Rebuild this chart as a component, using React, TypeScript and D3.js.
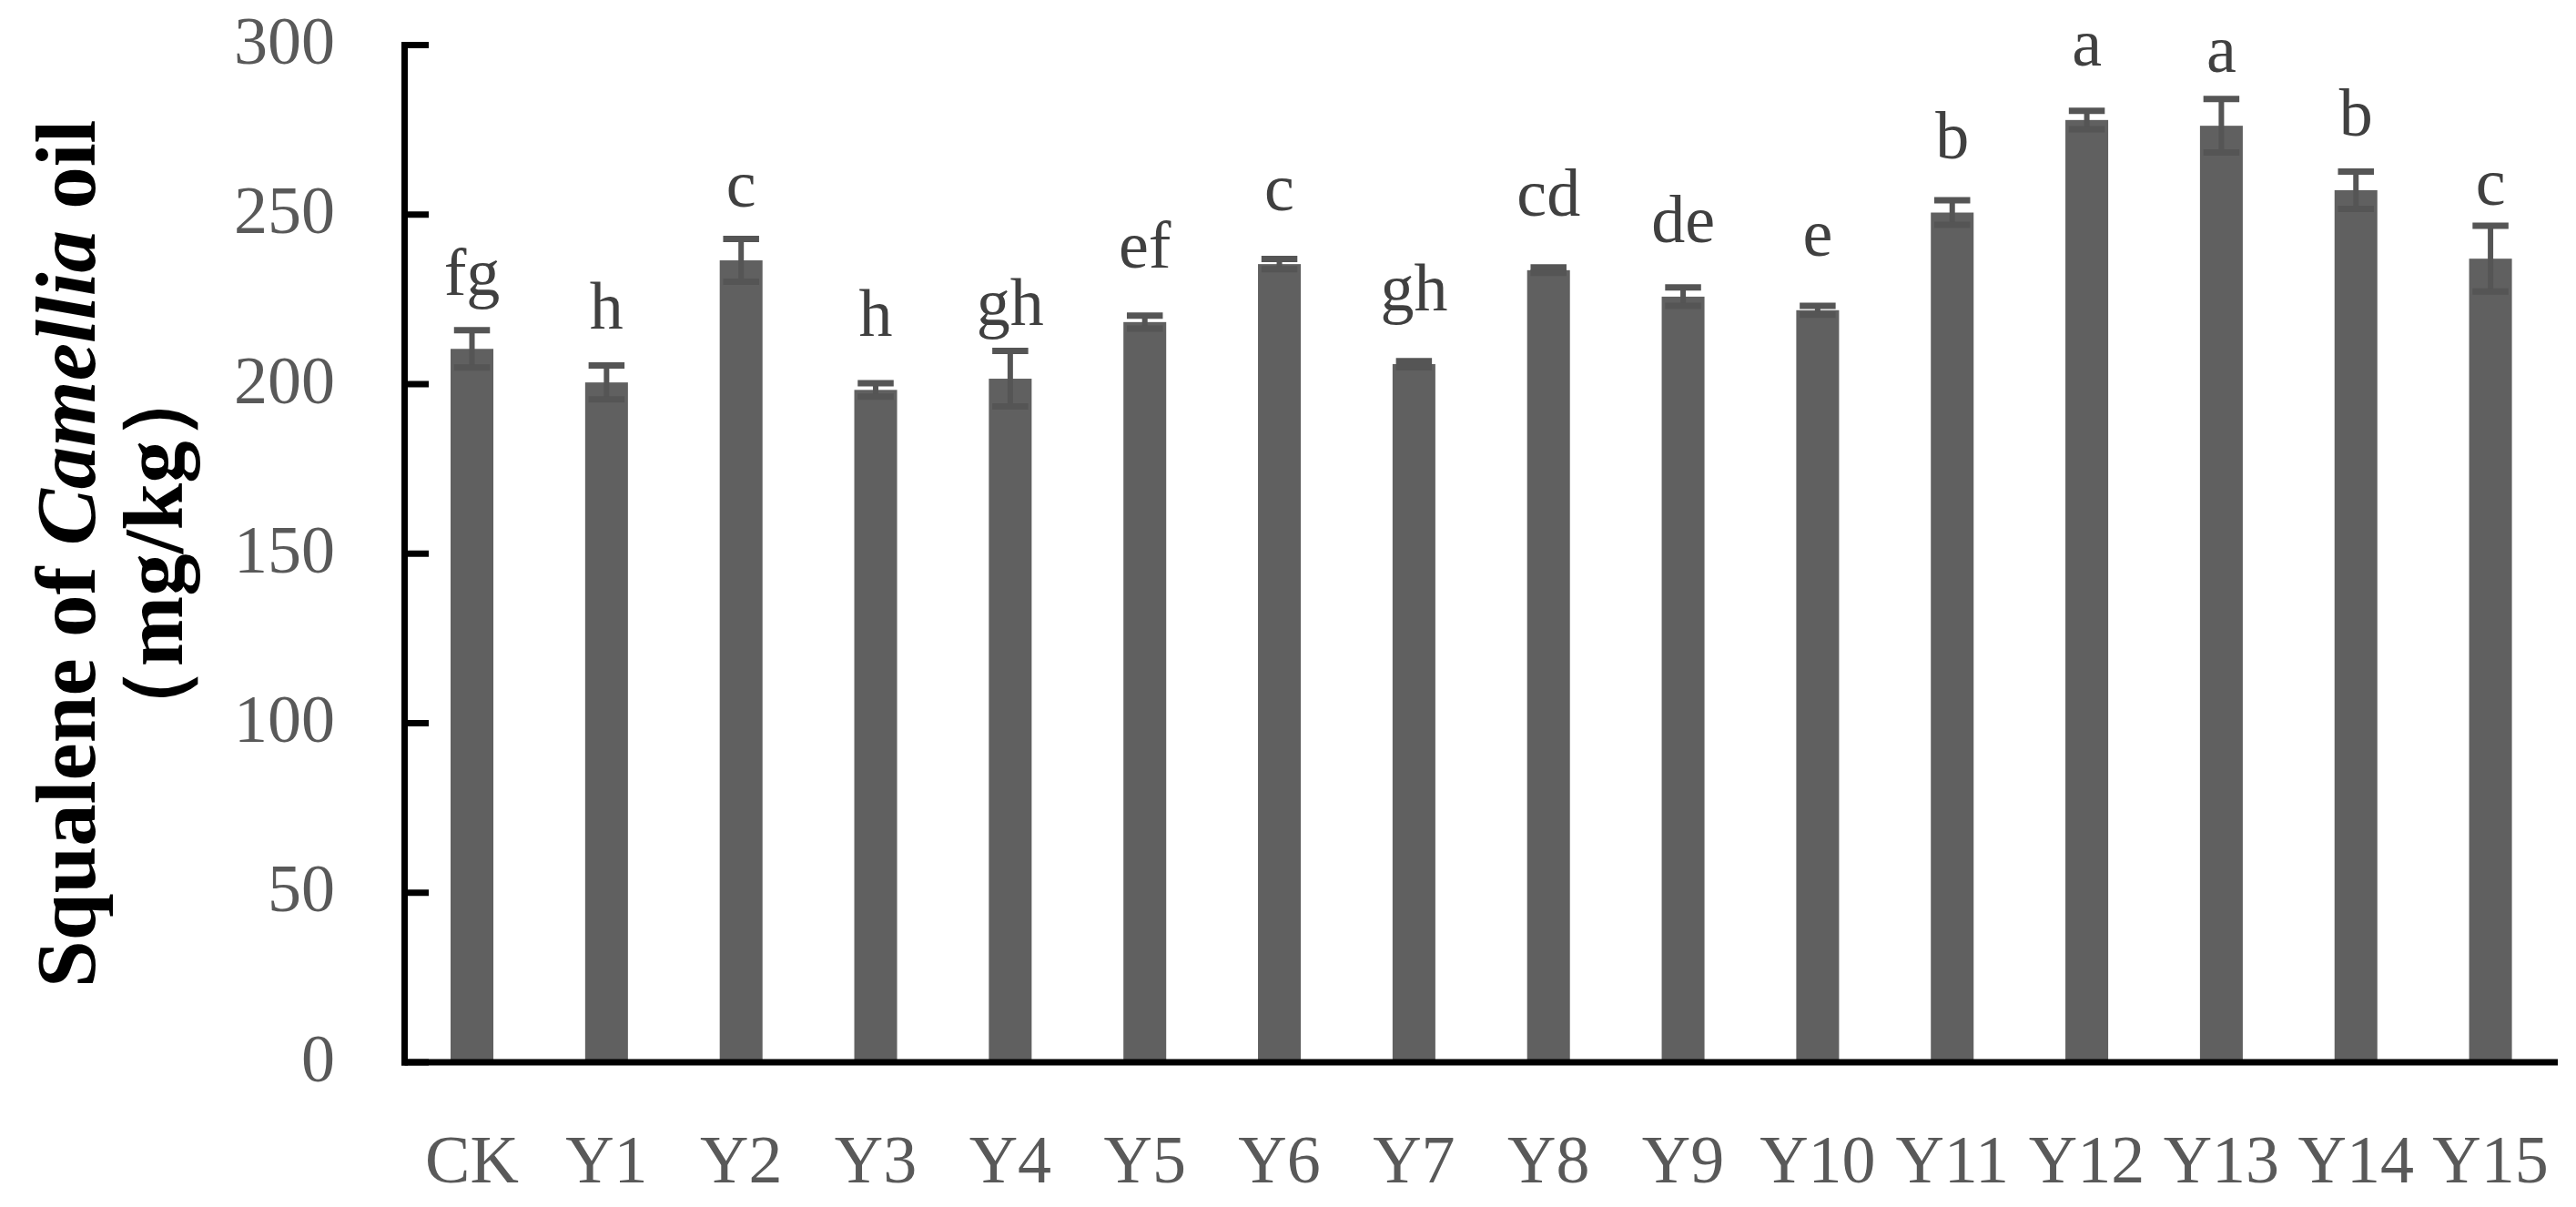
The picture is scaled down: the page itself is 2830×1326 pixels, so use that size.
import React from 'react';
import * as d3 from 'd3';

const categories = ['CK', 'Y1', 'Y2', 'Y3', 'Y4', 'Y5', 'Y6', 'Y7', 'Y8', 'Y9', 'Y10', 'Y11', 'Y12', 'Y13', 'Y14', 'Y15'];
const squalene = [210.4, 200.5, 236.5, 198.3, 201.6, 218.3, 235.4, 205.9, 233.6, 225.8, 221.8, 250.6, 277.9, 276.2, 257.2, 237.0];
const errors = [5.5, 5.0, 6.3, 2.0, 8.2, 1.9, 1.5, 0.9, 0.8, 2.7, 1.3, 3.6, 2.7, 7.9, 5.5, 9.7];
const letters = ['fg', 'h', 'c', 'h', 'gh', 'ef', 'c', 'gh', 'cd', 'de', 'e', 'b', 'a', 'a', 'b', 'c'];
const yTicks = [0, 50, 100, 150, 200, 250, 300];

const W = 2830;
const H = 1326;
const FONT = '"Liberation Serif", "Times New Roman", serif';

const App = () => {
  const x = d3
    .scaleBand<string>()
    .domain(categories)
    .range([444.6, 2810])
    .paddingInner(0.682)
    .paddingOuter(0.341);

  const y = d3.scaleLinear().domain([0, 300]).range([1167, 49.5]);

  const axisX = 444.5;
  const bw = x.bandwidth();
  const capW = bw * 0.84;

  return (
    <svg
      width={W}
      height={H}
      style={{ position: 'absolute', left: 0, top: 0, background: '#fff' }}
      fontFamily={FONT}
    >
      {/* bars */}
      {categories.map((c, i) => (
        <rect key={c} x={x(c)} y={y(squalene[i])} width={bw} height={y(0) - y(squalene[i])} fill="#606060" />
      ))}

      {/* error bars */}
      {categories.map((c, i) => {
        const cx = (x(c) as number) + bw / 2;
        const hi = y(squalene[i] + errors[i]);
        const lo = y(squalene[i] - errors[i]);
        return (
          <g key={c} stroke="#555555">
            <line x1={cx} x2={cx} y1={hi} y2={lo} strokeWidth={6} />
            <line x1={cx - capW / 2} x2={cx + capW / 2} y1={hi} y2={hi} strokeWidth={7} />
            <line x1={cx - capW / 2} x2={cx + capW / 2} y1={lo} y2={lo} strokeWidth={7} />
          </g>
        );
      })}

      {/* significance letters, fixed offset above bar top */}
      {categories.map((c, i) => (
        <text
          key={c}
          x={(x(c) as number) + bw / 2}
          y={y(squalene[i]) - 59.5}
          textAnchor="middle"
          fontSize={74}
          fill="#404040"
        >
          {letters[i]}
        </text>
      ))}

      {/* y axis */}
      <line x1={axisX} x2={axisX} y1={y(300) - 3.5} y2={y(0) + 3.5} stroke="#000" strokeWidth={7} />
      {yTicks.map((t) => (
        <g key={t}>
          <line x1={axisX} x2={471} y1={y(t)} y2={y(t)} stroke="#000" strokeWidth={7} />
          <text x={368} y={y(t) + 20.5} textAnchor="end" fontSize={74} fill="#595959">
            {t}
          </text>
        </g>
      ))}

      {/* x axis */}
      <line x1={axisX - 3.5} x2={2810} y1={y(0)} y2={y(0)} stroke="#000" strokeWidth={7} />
      {categories.map((c) => (
        <text key={c} x={(x(c) as number) + bw / 2} y={1299} textAnchor="middle" fontSize={74} fill="#595959">
          {c}
        </text>
      ))}

      {/* y axis title */}
      <g transform={`translate(0, ${(y(0) + y(300)) / 2}) rotate(-90)`}>
        <text x={0} y={104} textAnchor="middle" fontSize={93} fontWeight="bold" fill="#000">
          Squalene of <tspan fontStyle="italic">Camellia</tspan> oil
        </text>
        <text x={0} y={200} textAnchor="middle" fontSize={93} fontWeight="bold" fill="#000">
          （mg/kg）
        </text>
      </g>
    </svg>
  );
};

export default App;
